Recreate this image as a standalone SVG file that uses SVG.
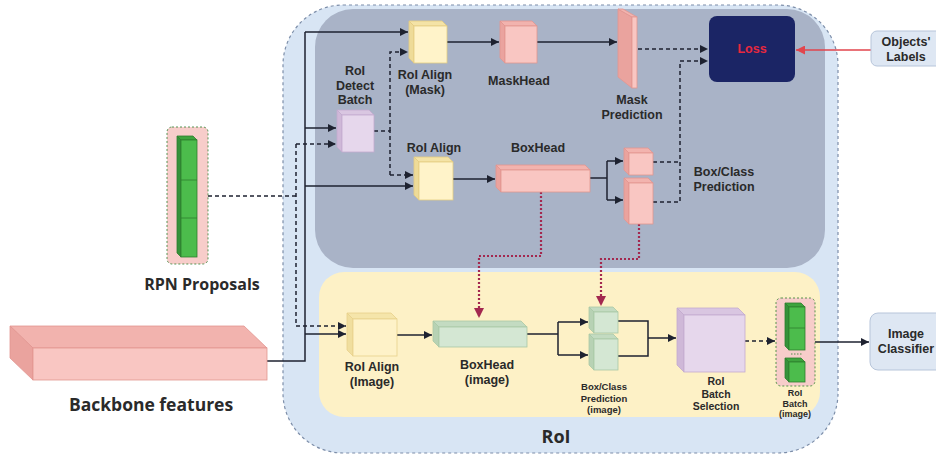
<svg xmlns="http://www.w3.org/2000/svg" width="936" height="455" viewBox="0 0 936 455">
<defs>
<style>
.t{font-family:"Liberation Sans",Arial,sans-serif;font-weight:bold;fill:#2a2a2a;text-anchor:middle}
.o{font-family:"Open Sans","Liberation Sans",Arial,sans-serif}
.s{fill:none;stroke:#1e2230;stroke-width:1.5}
.d{fill:none;stroke:#1e2230;stroke-width:1.5;stroke-dasharray:4 3}
.r{fill:none;stroke:#a3284f;stroke-width:2.2;stroke-dasharray:2 2}
.ye .f{fill:#fff3c9}.ye .tp{fill:#f4e3a6}.ye .lf{fill:#eedb98}.ye path,.ye rect{stroke:#e4cc82;stroke-width:0.8}
.pk .f{fill:#f9c6c2}.pk .tp{fill:#f2b3ae}.pk .lf{fill:#eaa39e}.pk path,.pk rect{stroke:#e29690;stroke-width:0.8}
.lv .f{fill:#e6d7ec}.lv .tp{fill:#d9c6e1}.lv .lf{fill:#cfb8d8}.lv path,.lv rect{stroke:#c3abcf;stroke-width:0.8}
.gp .f{fill:#d4e7d3}.gp .tp{fill:#c3dbc1}.gp .lf{fill:#b7d2b4}.gp path,.gp rect{stroke:#a9c9a6;stroke-width:0.8}
.gb .f{fill:#4cbc4c}.gb .tp{fill:#3ea43e}.gb .lf{fill:#35923a}.gb path,.gb rect{stroke:#2e7d2e;stroke-width:0.8}
.wrap{fill:#f7cdca;stroke:#b85450;stroke-width:1.2;stroke-dasharray:2 2}
</style>
<marker id="a" viewBox="0 0 10 10" refX="10" refY="5" markerWidth="8" markerHeight="8" markerUnits="userSpaceOnUse" orient="auto"><path d="M0,0 L10,5 L0,10 Z" fill="#1e2230"/></marker>
<marker id="ar" viewBox="0 0 10 10" refX="10" refY="5" markerWidth="10" markerHeight="10" markerUnits="userSpaceOnUse" orient="auto"><path d="M0,0 L10,5 L0,10 Z" fill="#a3284f"/></marker>
<marker id="ae" viewBox="0 0 10 10" refX="10" refY="5" markerWidth="9" markerHeight="9" markerUnits="userSpaceOnUse" orient="auto"><path d="M0,0 L10,5 L0,10 Z" fill="#e2454d"/></marker>
</defs>

<rect width="936" height="455" fill="#ffffff"/>

<!-- RoI container -->
<g id="roi">
<rect x="283" y="5" width="555" height="448" rx="60" fill="#d8e5f4" stroke="#7d8ea9" stroke-width="1.2" stroke-dasharray="3 3"/>
<rect x="315" y="9" width="510" height="259" rx="38" fill="#a9b3c7"/>
<rect x="319" y="272" width="501" height="145" rx="25" fill="#fdf1c6"/>
<text class="t o" x="556" y="443" font-size="18">RoI</text>
</g>

<!-- Connectors -->
<g id="connectors">
<path class="s" d="M267,361 H305 V32"/>
<path class="s" d="M305,32 H408" marker-end="url(#a)"/>
<path class="s" d="M305,128 H336" marker-end="url(#a)"/>
<path class="s" d="M305,186 H413" marker-end="url(#a)"/>
<path class="s" d="M305,334 H346" marker-end="url(#a)"/>
<path class="d" d="M208,196 H296"/>
<path class="d" d="M296,144 V326"/>
<path class="d" d="M296,144 H336" marker-end="url(#a)"/>
<path class="d" d="M296,326 H346" marker-end="url(#a)"/>
<path class="d" d="M374,131 H390 V175"/>
<path class="d" d="M390,131 V52 H408" marker-end="url(#a)"/>
<path class="d" d="M390,175 H413" marker-end="url(#a)"/>
<path class="s" d="M447,42 H499" marker-end="url(#a)"/>
<path class="s" d="M537,42 H617" marker-end="url(#a)"/>
<path class="s" d="M453,179 H495" marker-end="url(#a)"/>
<path class="s" d="M590,178 H607 M607,161 V200"/>
<path class="s" d="M607,161 H623" marker-end="url(#a)"/>
<path class="s" d="M607,200 H623" marker-end="url(#a)"/>
<path class="d" d="M638,49 H708" marker-end="url(#a)"/>
<path class="d" d="M653,162 H680 M653,202 H680 V61"/>
<path class="d" d="M680,61 H708" marker-end="url(#a)"/>
<path d="M871,50 H796" fill="none" stroke="#e2454d" stroke-width="1.5" marker-end="url(#ae)"/>
<path class="r" d="M541,192 V256 H479 V318" marker-end="url(#ar)"/>
<path class="r" d="M639,224 V259 H601 V306" marker-end="url(#ar)"/>
<path class="s" d="M397,335 H432" marker-end="url(#a)"/>
<path class="s" d="M527,334 H558 M558,322 V355"/>
<path class="s" d="M558,322 H588" marker-end="url(#a)"/>
<path class="s" d="M558,355 H588" marker-end="url(#a)"/>
<path class="s" d="M618,321 H648 V356 H618 M648,338 H676" marker-end="url(#a)"/>
<path class="d" d="M745,341 H775" marker-end="url(#a)"/>
<path class="s" d="M815,342 H869" marker-end="url(#a)"/>
</g>

<!-- RPN Proposals -->
<g id="rpn" class="gb">
<rect class="wrap" x="167" y="127" width="41" height="137" rx="5"/>
<path class="tp" d="M177,136 H193 L197,140 H181 Z"/>
<path class="lf" d="M177,136 L181,140 V257 L177,253 Z"/>
<rect class="f" x="181" y="140" width="16" height="117"/>
<path d="M181,180 H197 M181,218 H197" stroke="#2e7d2e" stroke-width="0.8"/>
<text class="t o" x="202" y="290" font-size="16">RPN Proposals</text>
</g>

<!-- Backbone features -->
<g id="backbone" class="pk">
<path class="tp" d="M10,326 H244 L267,348 H33 Z"/>
<path class="lf" d="M10,326 L33,348 V380 L10,358 Z"/>
<rect class="f" x="33" y="348" width="234" height="32"/>
<text class="t o" x="151" y="411" font-size="17.5">Backbone features</text>
</g>

<!-- RoI Detect Batch -->
<g id="roi-detect-batch" class="lv">
<path class="tp" d="M337,110 H369 L374,115 H342 Z"/>
<path class="lf" d="M337,110 L342,115 V152 L337,147 Z"/>
<rect class="f" x="342" y="115" width="32" height="37"/>
<text class="t" x="355" y="75" font-size="12.5">RoI</text>
<text class="t" x="355" y="89.5" font-size="12.5">Detect</text>
<text class="t" x="355" y="104" font-size="12.5">Batch</text>
</g>

<!-- RoI Align (Mask) -->
<g id="roi-align-mask" class="ye">
<path class="tp" d="M409,21 H442 L447,26 H414 Z"/>
<path class="lf" d="M409,21 L414,26 V63 L409,58 Z"/>
<rect class="f" x="414" y="26" width="33" height="37"/>
<text class="t" x="425" y="79" font-size="12.5">RoI Align</text>
<text class="t" x="425" y="94" font-size="12.5">(Mask)</text>
</g>

<!-- MaskHead -->
<g id="maskhead" class="pk">
<path class="tp" d="M500,21 H532 L537,26 H505 Z"/>
<path class="lf" d="M500,21 L505,26 V63 L500,58 Z"/>
<rect class="f" x="505" y="26" width="32" height="37"/>
<text class="t" x="519" y="85" font-size="12.5">MaskHead</text>
</g>

<!-- Mask Prediction -->
<g id="mask-prediction" class="pk">
<path class="lf" d="M618,9 L632,17 V88 L618,77 Z"/>
<path class="tp" d="M618,9 H623 L637,17 H632 Z"/>
<rect class="f" x="632" y="17" width="5" height="71"/>
<text class="t" x="632" y="104" font-size="12.5">Mask</text>
<text class="t" x="632" y="119" font-size="12.5">Prediction</text>
</g>

<!-- Loss -->
<g id="loss">
<rect x="709" y="16" width="86" height="66" rx="8" fill="#1b2565"/>
<text class="t" x="752" y="53" font-size="12.5" style="fill:#e8283e">Loss</text>
</g>

<!-- Objects' Labels -->
<g id="objects-labels">
<rect x="871" y="31" width="75" height="35" rx="6" fill="#dee7f3" stroke="#b7c5da" stroke-width="1"/>
<text class="t" x="906" y="46" font-size="12.5">Objects'</text>
<text class="t" x="906" y="61" font-size="12.5">Labels</text>
</g>

<!-- RoI Align -->
<g id="roi-align" class="ye">
<path class="tp" d="M414,157 H448 L453,162 H419 Z"/>
<path class="lf" d="M414,157 L419,162 V200 L414,195 Z"/>
<rect class="f" x="419" y="162" width="34" height="38"/>
<text class="t" x="434" y="152" font-size="12.5">RoI Align</text>
</g>

<!-- BoxHead -->
<g id="boxhead" class="pk">
<path class="tp" d="M496,165 H585 L590,170 H501 Z"/>
<path class="lf" d="M496,165 L501,170 V192 L496,187 Z"/>
<rect class="f" x="501" y="170" width="89" height="22"/>
<text class="t" x="538" y="152" font-size="12.5">BoxHead</text>
</g>

<!-- Box/Class Prediction -->
<g id="boxclass-prediction" class="pk">
<path class="tp" d="M624,148 H648 L653,153 H629 Z"/>
<path class="lf" d="M624,148 L629,153 V175 L624,170 Z"/>
<rect class="f" x="629" y="153" width="24" height="22"/>
<path class="tp" d="M624,178 H648 L653,183 H629 Z"/>
<path class="lf" d="M624,178 L629,183 V224 L624,219 Z"/>
<rect class="f" x="629" y="183" width="24" height="41"/>
<text class="t" x="724" y="176" font-size="12.5">Box/Class</text>
<text class="t" x="724" y="190.5" font-size="12.5">Prediction</text>
</g>

<!-- RoI Align (Image) -->
<g id="roi-align-image" class="ye" opacity="0.85">
<path class="tp" d="M347,313 H391 L397,319 H353 Z"/>
<path class="lf" d="M347,313 L353,319 V356 L347,350 Z"/>
<rect class="f" x="353" y="319" width="44" height="37"/>
</g>
<g id="roi-align-image-label">
<text class="t" x="372" y="371" font-size="12.5">RoI Align</text>
<text class="t" x="372" y="385.5" font-size="12.5">(Image)</text>
</g>

<!-- BoxHead (image) -->
<g id="boxhead-image" class="gp">
<path class="tp" d="M433,321 H521 L527,327 H439 Z"/>
<path class="lf" d="M433,321 L439,327 V347 L433,341 Z"/>
<rect class="f" x="439" y="327" width="88" height="20"/>
<text class="t" x="487" y="369" font-size="12.5">BoxHead</text>
<text class="t" x="487" y="383.5" font-size="12.5">(image)</text>
</g>

<!-- Box/Class Prediction (image) -->
<g id="boxclass-prediction-image" class="gp">
<path class="tp" d="M589,307 H613 L618,312 H594 Z"/>
<path class="lf" d="M589,307 L594,312 V333 L589,328 Z"/>
<rect class="f" x="594" y="312" width="24" height="21"/>
<path class="tp" d="M589,334 H613 L618,339 H594 Z"/>
<path class="lf" d="M589,334 L594,339 V370 L589,365 Z"/>
<rect class="f" x="594" y="339" width="24" height="31"/>
<text class="t" x="604" y="390" font-size="9.5">Box/Class</text>
<text class="t" x="604" y="401.5" font-size="9.5">Prediction</text>
<text class="t" x="604" y="413" font-size="9.5">(image)</text>
</g>

<!-- RoI Batch Selection -->
<g id="roi-batch-selection" class="lv">
<path class="tp" d="M677,308 H738 L745,315 H684 Z"/>
<path class="lf" d="M677,308 L684,315 V372 L677,365 Z"/>
<rect class="f" x="684" y="315" width="61" height="57"/>
<text class="t" x="716" y="385" font-size="10.5">RoI</text>
<text class="t" x="716" y="397.5" font-size="10.5">Batch</text>
<text class="t" x="716" y="410" font-size="10.5">Selection</text>
</g>

<!-- RoI Batch (image) -->
<g id="roi-batch-image" class="gb">
<rect class="wrap" x="776" y="298" width="39" height="88" rx="5"/>
<path class="tp" d="M785,303 H801 L805,307 H789 Z"/>
<path class="lf" d="M785,303 L789,307 V350 L785,346 Z"/>
<rect class="f" x="789" y="307" width="16" height="43"/>
<path d="M789,328 H805" stroke="#2e7d2e" stroke-width="0.8"/>
<path d="M791,354 H803" stroke="#2e7d2e" stroke-width="1.2" stroke-dasharray="1.5 1.5"/>
<path class="tp" d="M785,358 H801 L805,362 H789 Z"/>
<path class="lf" d="M785,358 L789,362 V382 L785,378 Z"/>
<rect class="f" x="789" y="362" width="16" height="20"/>
<text class="t" x="795" y="396" font-size="9">RoI</text>
<text class="t" x="795" y="406.5" font-size="9">Batch</text>
<text class="t" x="795" y="417" font-size="9">(image)</text>
</g>

<!-- Image Classifier -->
<g id="image-classifier">
<rect x="870" y="313" width="80" height="57" rx="8" fill="#dee7f3" stroke="#b7c5da" stroke-width="1"/>
<text class="t" x="906" y="338" font-size="12.5">Image</text>
<text class="t" x="906" y="352.5" font-size="12.5">Classifier</text>
</g>
</svg>
